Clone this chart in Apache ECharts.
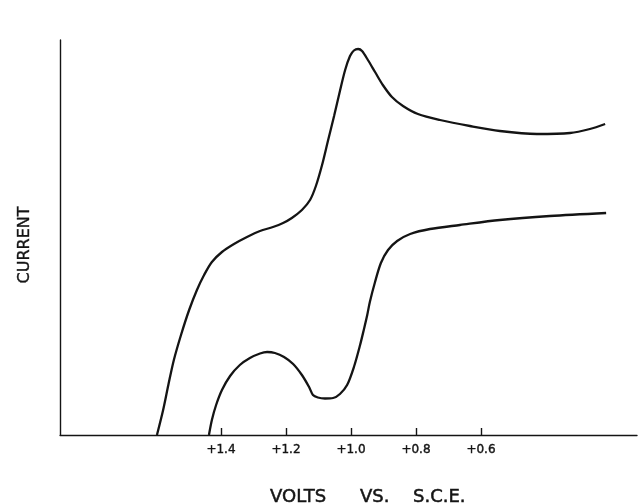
<!DOCTYPE html>
<html>
<head>
<meta charset="utf-8">
<script src="https://cdn.jsdelivr.net/npm/echarts@6/dist/echarts.min.js"></script>
<style>
html,body{margin:0;padding:0;background:#fff;}
#c{width:639px;height:504px;}
</style>
</head>
<body>
<div id="c"></div>
<script>
// Potential (V vs. S.C.E.) and current (arbitrary units)
const outerVolts = [1.597,1.578,1.562,1.545,1.523,1.498,1.474,1.452,1.428,1.397,1.360,1.320,1.280,1.240,1.209,1.182,1.151,1.126,1.108,1.089,1.071,1.052,1.034,1.018,1.003,0.991,0.978,0.966,0.948,0.926,0.902,0.874,0.840,0.794,0.726,0.634,0.542,0.428,0.326,0.265,0.218];
const outerCurrent = [0,25,50,75,100,125,145,160,173,183,191,198,204,208,212,217,225,235,249,270,294,319,344,365,379,384.5,386,384,375,363,350,338,329,321,315,309,304,301,302,306,311];
const innerVolts = [1.437,1.428,1.415,1.397,1.372,1.342,1.311,1.280,1.258,1.234,1.206,1.178,1.151,1.129,1.117,1.102,1.080,1.055,1.034,1.012,0.991,0.972,0.960,0.950,0.942,0.926,0.908,0.886,0.858,0.818,0.757,0.665,0.542,0.388,0.215];
const innerCurrent = [0,15,30,45,59,70,77,81.5,83,82,78,71,60,48,40,37.5,36.5,37,41,50,68,90,106,120,133,153,172,185,194,201,206,210,215,219,222];
const tickValues = [1.4,1.2,1.0,0.8,0.6];
const tickLabels = ['+1.4','+1.2','+1.0','+0.8','+0.6'];
const yTitle = 'CURRENT';
const xTitleWords = ['VOLTS','VS.','S.C.E.'];

const chart = echarts.init(document.getElementById('c'), null, {renderer:'canvas'});
const ink = '#141414';
const pair = (xs, ys) => xs.map((v,i)=>[v, ys[i]]);
const titleFont = '18px "DejaVu Sans"';
const wordX = [270, 360, 413];
chart.setOption({
  animation:false,
  backgroundColor:'#fff',
  grid:{left:60.1,right:2,top:40,bottom:69},
  xAxis:{
    type:'value', inverse:true, min:0.12, max:1.895,
    axisLine:{show:true,lineStyle:{color:ink,width:1.4}},
    axisTick:{show:true,inside:true,length:7,customValues:tickValues,lineStyle:{color:ink,width:1.4}},
    axisLabel:{show:true,customValues:tickValues,margin:9,color:ink,fontSize:12,fontFamily:'DejaVu Sans',
      textBorderColor:ink,textBorderWidth:0.4,
      formatter:(v)=>{const i=tickValues.findIndex(t=>Math.abs(t-v)<1e-6);return i>=0?tickLabels[i]:'';}},
    splitLine:{show:false}
  },
  yAxis:{
    type:'value', min:0, max:395,
    axisLine:{show:true,lineStyle:{color:ink,width:1.4}},
    axisTick:{show:false}, axisLabel:{show:false}, splitLine:{show:false}
  },
  graphic:[
    {type:'text',x:24.5,y:245,rotation:Math.PI/2,style:{text:yTitle,fill:ink,stroke:ink,lineWidth:0.4,font:'16px "DejaVu Sans"',textAlign:'center',textVerticalAlign:'middle'}}
  ].concat(xTitleWords.map((w,i)=>({type:'text',x:wordX[i],y:497,style:{text:w,fill:ink,stroke:ink,lineWidth:0.5,font:titleFont,textAlign:'left',textVerticalAlign:'middle'}}))),
  series:[
    {type:'line',data:pair(outerVolts,outerCurrent),smooth:0.3,showSymbol:false,clip:false,lineStyle:{color:ink,width:2.3}},
    {type:'line',data:pair(innerVolts,innerCurrent),smooth:0.3,showSymbol:false,clip:false,lineStyle:{color:ink,width:2.3}}
  ]
});
</script>
</body>
</html>
